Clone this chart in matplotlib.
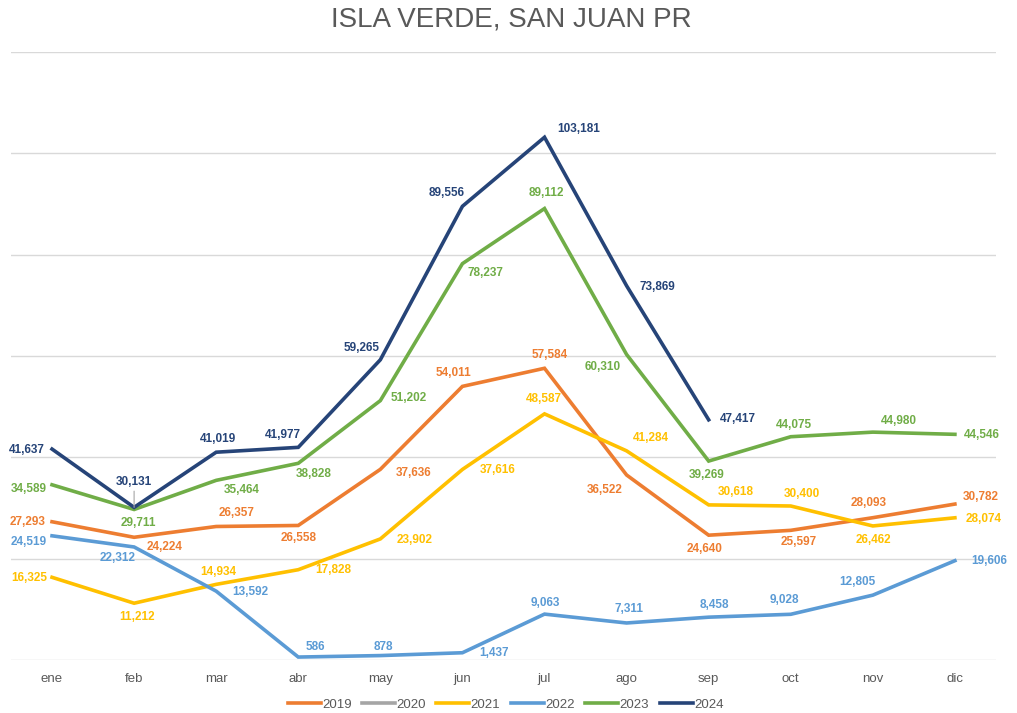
import matplotlib.pyplot as plt
import numpy as np

plt.rcParams['font.family'] = ['Liberation Sans', 'DejaVu Sans']

months = ['ene', 'feb', 'mar', 'abr', 'may', 'jun', 'jul', 'ago', 'sep', 'oct', 'nov', 'dic']
years = ['2019', '2020', '2021', '2022', '2023', '2024']

v2019 = [27293, 24224, 26357, 26558, 37636, 54011, 57584, 36522, 24640, 25597, 28093, 30782]
v2020 = [None] * 12
v2021 = [16325, 11212, 14934, 17828, 23902, 37616, 48587, 41284, 30618, 30400, 26462, 28074]
v2022 = [24519, 22312, 13592, 586, 878, 1437, 9063, 7311, 8458, 9028, 12805, 19606]
v2023 = [34589, 29711, 35464, 38828, 51202, 78237, 89112, 60310, 39269, 44075, 44980, 44546]
v2024 = [41637, 30131, 41019, 41977, 59265, 89556, 103181, 73869, 47417, None, None, None]

colors = ['#ED7D31', '#A5A5A5', '#FFC000', '#5B9BD5', '#70AD47', '#264478']

# label placement (dx, dy in pixels, image-down), alignment
offs = {
    '2019': [(-7, 0, 'right'), (13, 10, 'left'), (20, -13, 'center'), (0, 13, 'center'),
             (15, 4, 'left'), (-9, -13, 'center'), (5, -13, 'center'), (-4, 15, 'right'),
             (-4, 14, 'center'), (8, 12, 'center'), (-4, -15, 'center'), (8, -7, 'left')],
    '2021': [(-5, 1, 'right'), (3, 14, 'center'), (2, -12, 'center'), (17, 0, 'left'),
             (16, 1, 'left'), (17, 1, 'left'), (-1, -15, 'center'), (24, -13, 'center'),
             (27, -13, 'center'), (11, -12, 'center'), (1, 14, 'center'), (11, 1, 'left')],
    '2022': [(-5, 6, 'right'), (-16, 11, 'center'), (16, 1, 'left'), (17, -10, 'center'),
             (3, -9, 'center'), (17, 0, 'left'), (1, -11, 'center'), (2, -14, 'center'),
             (6, -12, 'center'), (-6, -14, 'center'), (-15, -13, 'center'), (16, 0, 'left')],
    '2023': [(-5, 4, 'right'), (4, 14, 'center'), (26, 10, 'center'), (15, 11, 'center'),
             (10, -3, 'left'), (5, 9, 'left'), (2, -16, 'center'), (-6, 13, 'right'),
             (-2, 14, 'center'), (3, -12, 'center'), (26, -11, 'center'), (9, 1, 'left')],
    '2024': [(-7, 1, 'right'), (0, -25, 'center'), (2, -13, 'center'), (-15, -12, 'center'),
             (-19, -12, 'center'), (-16, -13, 'center'), (13, -8, 'left'), (13, 1, 'left'),
             (11, -1, 'left')],
}

fig = plt.figure(figsize=(10.17, 7.13), dpi=100)
ax = fig.add_axes([0.0108, 0.0743, 0.9685, 0.8527])

x = np.arange(len(months))
series = [v2019, v2020, v2021, v2022, v2023, v2024]
for yr, vals, c in zip(years, series, colors):
    y = np.array([np.nan if v is None else v for v in vals], dtype=float)
    ax.plot(x, y, color=c, lw=2.6, label=yr, solid_joinstyle='miter', zorder=3)
    if yr not in offs:
        continue
    for i, v in enumerate(vals):
        if v is None:
            continue
        dx, dy, ha = offs[yr][i]
        kw = {}
        if yr == '2024' and i == 1:
            kw['arrowprops'] = dict(arrowstyle='-', color='#A6A6A6', lw=0.8,
                                    shrinkA=0, shrinkB=0)
        ax.annotate(f'{v:,}', (i, v), xytext=(dx, -dy), textcoords='offset pixels',
                    ha=ha, va='center', fontsize=8.5, fontweight='bold', color=c,
                    zorder=4, **kw)

ax.set_xlim(-0.5, 11.5)
ax.set_ylim(0, 120000)
ax.set_yticks(np.arange(0, 120001, 20000))
ax.yaxis.grid(True, color='#D9D9D9', lw=1)
ax.set_axisbelow(True)
ax.set_yticklabels([])
ax.tick_params(axis='y', length=0)
ax.set_xticks(x)
ax.set_xticklabels(months, color='#595959', fontsize=9.5)
ax.tick_params(axis='x', length=0, pad=9)
for s in ax.spines.values():
    s.set_visible(False)

fig.text(0.503, 0.973, 'ISLA VERDE, SAN JUAN PR', ha='center', va='center',
         fontsize=20, color='#595959')

fig.legend(loc='lower center', bbox_to_anchor=(0.497, -0.014), ncol=6, frameon=False,
           fontsize=9.5, handlelength=2.5, columnspacing=0.8, handletextpad=0.1,
           labelcolor='#595959')

fig.savefig('out.png', dpi=100)
